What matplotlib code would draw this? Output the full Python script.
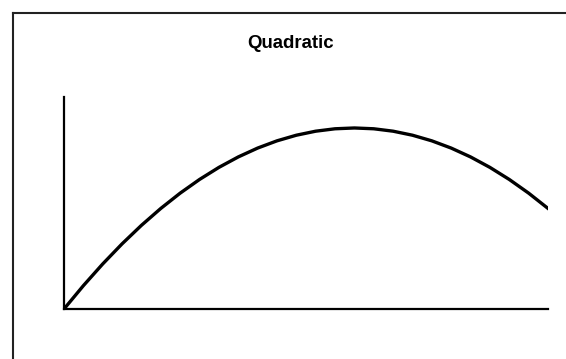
import matplotlib
matplotlib.use("Agg")
import matplotlib.pyplot as plt
from matplotlib.lines import Line2D

# data
x_vals = [0, 2, 4, 6, 8, 10, 12, 14, 16, 18, 20, 22, 24, 26, 28, 30,
          32, 34, 36, 38, 40, 42, 44, 46, 48, 50]
y_vals = [0, 116, 224, 324, 416, 500, 576, 644, 704, 756, 800, 836, 864, 884, 896, 900,
          896, 884, 864, 836, 800, 756, 704, 644, 576, 500]
title = "Quadratic"

W, H = 566, 359
fig = plt.figure(figsize=(W / 100, H / 100), dpi=100)

# outer frame (only top and left visible in the reference)
fig.add_artist(Line2D([13 / W, 1.0], [1 - 13 / H, 1 - 13 / H], color="#222222", lw=1.5))
fig.add_artist(Line2D([13 / W, 13 / W], [0.0, 1 - 13 / H], color="#222222", lw=1.5))

ax = fig.add_axes([64 / W, (H - 309) / H, 484 / W, 212 / H])
ax.plot(x_vals, y_vals, color="black", lw=2.4, solid_joinstyle="round")
ax.set_xlim(0, 50)
ax.set_ylim(0, 1054)
for s in ("top", "right"):
    ax.spines[s].set_visible(False)
for s in ("left", "bottom"):
    ax.spines[s].set_linewidth(1.6)
ax.set_xticks([]); ax.set_yticks([])

fig.text(290.5 / W, 1 - 43 / H, title, ha="center", va="center",
         fontsize=13.4, fontweight="bold", family="Liberation Sans")

fig.savefig("out.png", dpi=100)
